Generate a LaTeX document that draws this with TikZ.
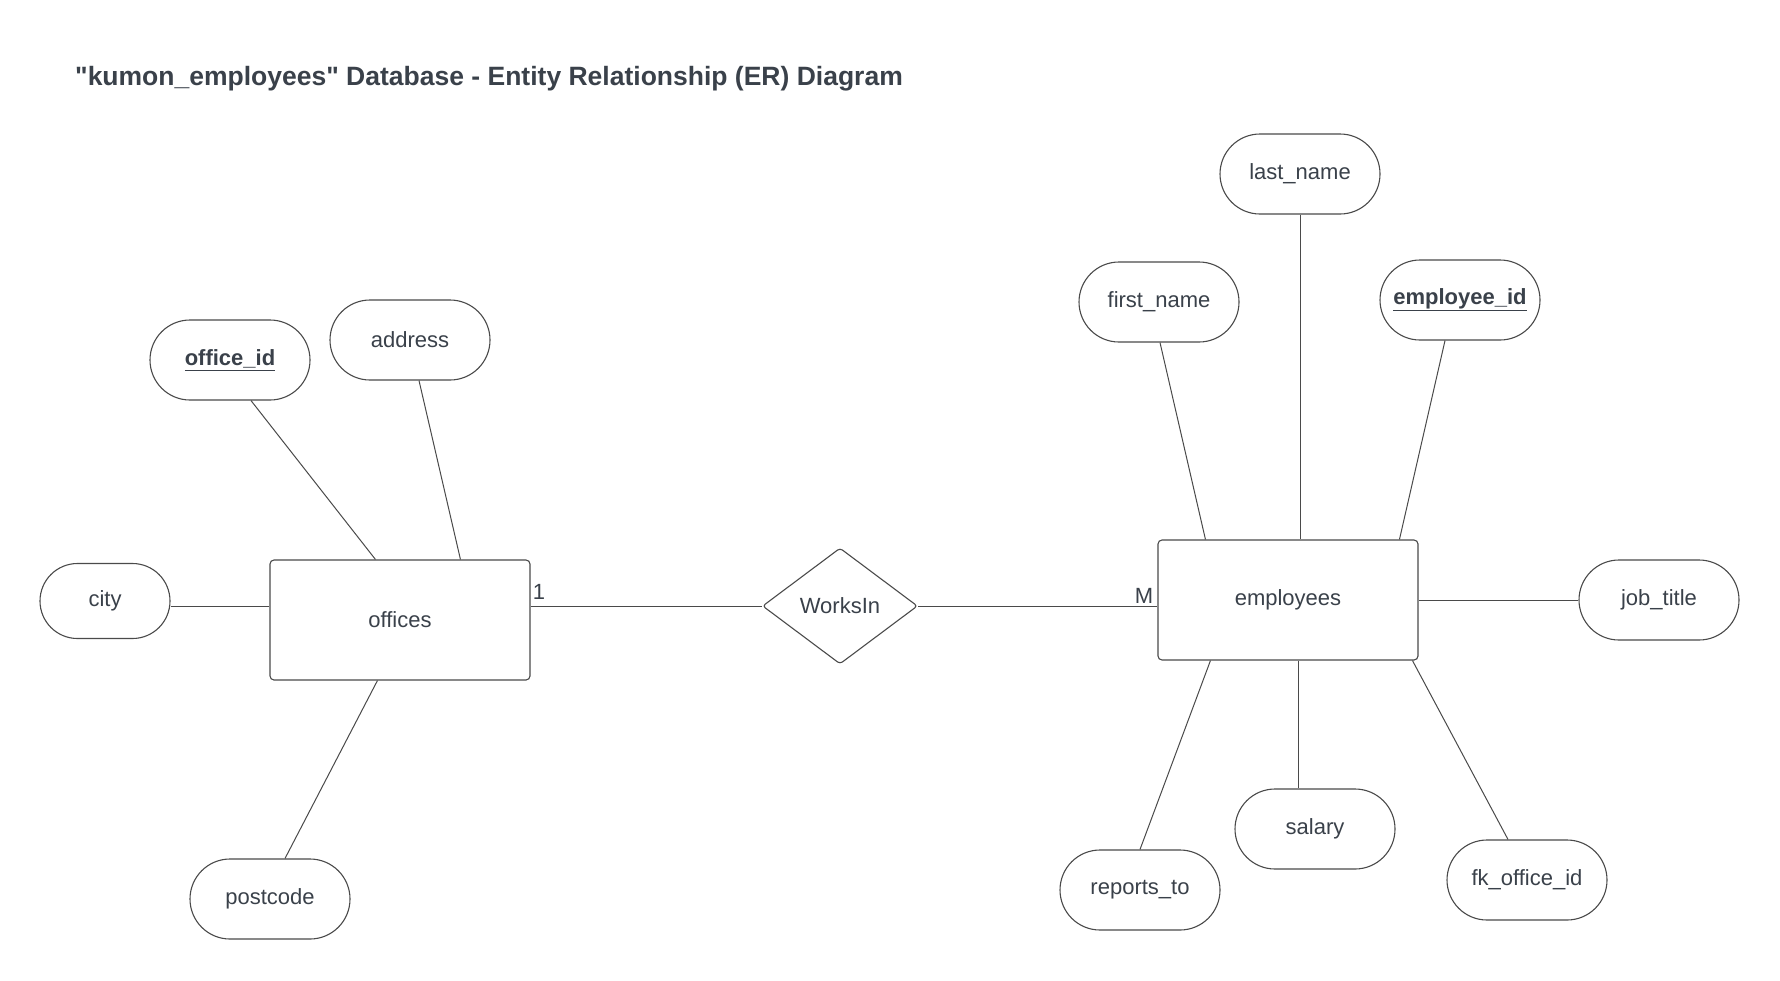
\documentclass[tikz,border=0pt]{standalone}
\usepackage{fontspec}
\setmainfont{Liberation Sans}
\newfontfamily\titlefont{Liberation Sans}
\usetikzlibrary{shapes.misc,shapes.geometric,calc}
\definecolor{ink}{HTML}{3A414A}
\definecolor{edge}{HTML}{4A4A4A}
\begin{document}
\begin{tikzpicture}[x=1pt,y=-1pt,
  lbl/.style={font=\fontsize{22}{26}\selectfont, text=ink},
  attr/.style={rounded rectangle, draw=edge, line width=1.1pt, minimum width=160pt, minimum height=80pt, inner sep=0pt, lbl},
  ent/.style={rectangle, rounded corners=4pt, draw=edge, line width=1.1pt, minimum width=260pt, minimum height=120pt, inner sep=0pt, lbl},
  rel/.style={diamond, draw=edge, line width=1.1pt, minimum width=155pt, minimum height=116pt, inner sep=0pt, rounded corners=3pt, lbl},
  link/.style={draw=edge, line width=1pt},
  card/.style={lbl, inner sep=0pt}
]
\useasboundingbox[fill=white] (0,0) rectangle (1780,980);

\node[anchor=west, inner sep=0pt, font=\titlefont\bfseries\fontsize{26.5}{30}\selectfont, text=ink] (title) at (75,79)
  {"kumon\_employees" Database - Entity Relationship (ER) Diagram};

% entities and relationship
\node[ent] (offices) at (400,620) {offices};
\node[ent] (emp) at (1288,600) {employees};
\node[rel] (wi) at (840,606) {WorksIn};

% office attributes
\node[attr] (oid) at (230,360) {\underline{\textbf{office\_id}}};
\node[attr] (addr) at (410,340) {address};
\node[attr, minimum width=130pt, minimum height=75pt] (city) at (105,601) {city};
\node[attr] (post) at (270,899) {postcode};

% employee attributes
\node[attr] (ln) at (1300,174) {last\_name};
\node[attr] (fn) at (1159,302) {first\_name};
\node[attr] (eid) at (1460,300) {\underline{\textbf{employee\_id}}};
\node[attr] (jt) at (1659,600) {job\_title};
\node[attr] (rt) at (1140,890) {reports\_to};
\node[attr] (sal) at (1315,829) {salary};
\node[attr] (fk) at (1527,880) {fk\_office\_id};

% connectors: offices
\draw[link] ([xshift=21pt]oid.south) -- ([xshift=106pt]offices.north west);
\draw[link] ([xshift=9pt]addr.south) -- ([xshift=191pt]offices.north west);
\path ([yshift=-5pt]city.east) coordinate (cityR);
\draw[link] (cityR) -- (cityR -| offices.west);
\draw[link] ([xshift=108pt]offices.south west) -- ([xshift=15pt]post.north);

% relationship
\draw[link] (wi.west -| offices.east) -- (wi.west);
\draw[link] (wi.east) -- (wi.east -| emp.west);
\node[card] (one) at (539,592) {1};
\node[card] (many) at (1144,596) {M};

% connectors: employees
\draw[link] ([xshift=1pt]fn.south) -- ([xshift=48pt]emp.north west);
\draw[link] (ln.south) -- (ln.south |- emp.north);
\draw[link] ([xshift=-15pt]eid.south) -- ([xshift=242pt]emp.north west);
\draw[link] (jt.west) -- (jt.west -| emp.east);
\draw[link] ([xshift=53pt]emp.south west) -- (rt.north);
\path ([xshift=141pt]emp.south west) coordinate (salTop);
\draw[link] (salTop) -- (salTop |- sal.north);
\draw[link] ([xshift=255pt]emp.south west) -- ([xshift=-19pt]fk.north);
\end{tikzpicture}
\end{document}
